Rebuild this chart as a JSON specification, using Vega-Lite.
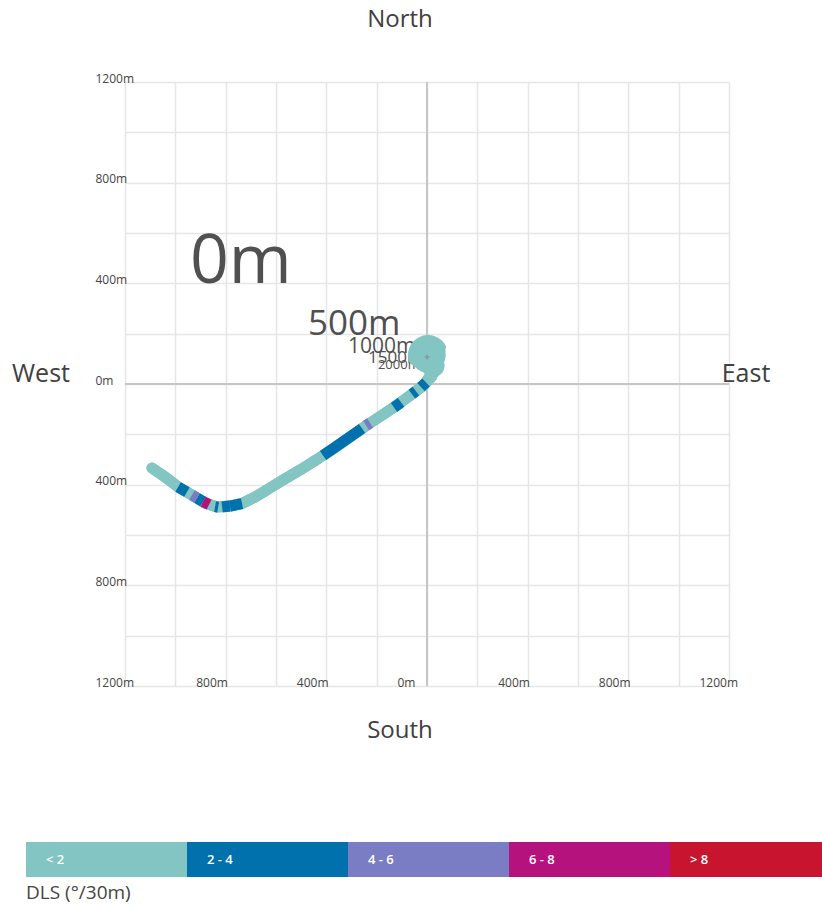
{
  "$schema": "https://vega.github.io/schema/vega-lite/v6.json",
  "width": 604,
  "height": 604,
  "autosize": {"type": "none"},
  "padding": {"left": 125, "top": 82, "right": 93, "bottom": 220},
  "background": "white",
  "config": {
    "font": "Open Sans",
    "view": {"stroke": null}
  },
  "data": {"values": [{}]},
  "datasets": {
    "path": [
      {"md": 0, "e": 4, "n": 115},
      {"md": 1200, "e": 24, "n": 72},
      {"md": 1900, "e": 16, "n": 32},
      {"md": 2100, "e": -12, "n": -4},
      {"md": 2160, "e": -60, "n": -40},
      {"md": 2219, "e": -107, "n": -75},
      {"md": 2297, "e": -171, "n": -119},
      {"md": 2377, "e": -238, "n": -163},
      {"md": 2460, "e": -306, "n": -211},
      {"md": 2542, "e": -373, "n": -258},
      {"md": 2623, "e": -441, "n": -302},
      {"md": 2698, "e": -505, "n": -342},
      {"md": 2776, "e": -572, "n": -381},
      {"md": 2851, "e": -636, "n": -421},
      {"md": 2905, "e": -683, "n": -449},
      {"md": 2959, "e": -731, "n": -473},
      {"md": 3012, "e": -783, "n": -485},
      {"md": 3063, "e": -834, "n": -489},
      {"md": 3114, "e": -882, "n": -473},
      {"md": 3175, "e": -934, "n": -441},
      {"md": 3239, "e": -989, "n": -409},
      {"md": 3305, "e": -1041, "n": -369},
      {"md": 3368, "e": -1093, "n": -334}
    ],
    "bands": [
      {"dls": "2 - 4", "e": -4, "n": 6, "e2": -24, "n2": -12},
      {"dls": "2 - 4", "e": -44, "n": -28, "e2": -60, "n2": -40},
      {"dls": "2 - 4", "e": -103, "n": -73, "e2": -131, "n2": -93},
      {"dls": "4 - 6", "e": -226, "n": -155, "e2": -242, "n2": -165},
      {"dls": "2 - 4", "e": -258, "n": -177, "e2": -413, "n2": -284},
      {"dls": "2 - 4", "e": -735, "n": -475, "e2": -783, "n2": -485},
      {"dls": "2 - 4", "e": -783, "n": -485, "e2": -814, "n2": -489},
      {"dls": "2 - 4", "e": -830, "n": -489, "e2": -842, "n2": -487},
      {"dls": "6 - 8", "e": -866, "n": -479, "e2": -890, "n2": -467},
      {"dls": "2 - 4", "e": -890, "n": -467, "e2": -914, "n2": -453},
      {"dls": "4 - 6", "e": -914, "n": -453, "e2": -934, "n2": -441},
      {"dls": "2 - 4", "e": -954, "n": -429, "e2": -989, "n2": -409}
    ],
    "depths": [
      {"label": "0m", "depth": 0, "e": -942, "n": 400},
      {"label": "500m", "depth": 500, "e": -473, "n": 195},
      {"label": "1000m", "depth": 1000, "e": -314, "n": 123},
      {"label": "1500m", "depth": 1500, "e": -234, "n": 83},
      {"label": "2000m", "depth": 2000, "e": -195, "n": 60}
    ]
  },
  "resolve": {"scale": {"size": "independent"}},
  "layer": [
    {
      "mark": {"type": "rule", "color": "#c6c6c6", "strokeWidth": 2},
      "encoding": {"x": {"datum": 0, "type": "quantitative"}}
    },
    {
      "mark": {"type": "rule", "color": "#c6c6c6", "strokeWidth": 2},
      "encoding": {"y": {"datum": 0, "type": "quantitative"}}
    },
    {
      "data": {"name": "depths"},
      "mark": {"type": "text", "align": "left", "baseline": "alphabetic", "color": "#505050"},
      "encoding": {
        "x": {"field": "e", "type": "quantitative", "axis": {"title": null}},
        "y": {"field": "n", "type": "quantitative", "axis": {"title": null}},
        "text": {"field": "label"},
        "size": {"field": "depth", "type": "quantitative", "legend": null,
                 "scale": {"type": "linear", "domain": [0, 500, 1000, 1500, 2000], "range": [68, 35, 21, 17, 13]}}
      }
    },
    {
      "data": {"name": "path"},
      "mark": {"type": "line", "color": "#82c5c3", "strokeWidth": 11, "strokeCap": "round", "strokeJoin": "round"},
      "encoding": {
        "x": {"field": "e", "type": "quantitative",
              "scale": {"domain": [-1200, 1200], "nice": false, "zero": false},
              "axis": {
                "title": null,
                "values": [-1200, -1000, -800, -600, -400, -200, 0, 200, 400, 600, 800, 1000, 1200],
                "labelExpr": "datum.value % 400 === 0 ? abs(datum.value) + 'm' : ''",
                "domain": false, "ticks": false, "tickSize": 0,
                "grid": true, "gridColor": "#e6e6e6", "gridWidth": 1.5,
                "labelAlign": "left", "labelOffset": -30, "labelBaseline": "alphabetic", "labelPadding": 0,
                "labelFontSize": 12, "labelColor": "#444444",
                "labelFlush": false, "labelOverlap": false, "labelBound": false
              }},
        "y": {"field": "n", "type": "quantitative",
              "scale": {"domain": [-1200, 1200], "nice": false, "zero": false},
              "axis": {
                "title": null,
                "values": [-1200, -1000, -800, -600, -400, -200, 0, 200, 400, 600, 800, 1000, 1200],
                "labelExpr": "datum.value % 400 === 0 && datum.value > -1200 ? abs(datum.value) + 'm' : ''",
                "domain": false, "ticks": false, "tickSize": 0,
                "grid": true, "gridColor": "#e6e6e6", "gridWidth": 1.5,
                "labelAlign": "left", "labelPadding": 30, "labelBaseline": "alphabetic",
                "labelFontSize": 12, "labelColor": "#444444",
                "labelFlush": false, "labelOverlap": false, "labelBound": false
              }},
        "order": {"field": "md", "type": "quantitative"}
      }
    },
    {
      "data": {"name": "path"},
      "mark": {"type": "trail", "color": "#82c5c3"},
      "encoding": {
        "x": {"field": "e", "type": "quantitative", "axis": {"title": null}},
        "y": {"field": "n", "type": "quantitative", "axis": {"title": null}},
        "order": {"field": "md", "type": "quantitative"},
        "size": {"field": "md", "type": "quantitative", "legend": null,
                 "scale": {"type": "linear", "domain": [0, 1200, 1900, 2100], "range": [40, 23, 13, 11], "clamp": true}}
      }
    },
    {
      "data": {"name": "path"},
      "transform": [{"filter": "datum.md === 0"}],
      "mark": {"type": "circle", "color": "#82c5c3", "opacity": 1, "size": 1250},
      "encoding": {
        "x": {"field": "e", "type": "quantitative", "axis": {"title": null}},
        "y": {"field": "n", "type": "quantitative", "axis": {"title": null}}
      }
    },
    {
      "data": {"name": "bands"},
      "mark": {"type": "rule", "strokeWidth": 11, "strokeCap": "butt"},
      "encoding": {
        "x": {"field": "e", "type": "quantitative", "axis": {"title": null}},
        "y": {"field": "n", "type": "quantitative", "axis": {"title": null}},
        "x2": {"field": "e2"},
        "y2": {"field": "n2"},
        "color": {
          "field": "dls", "type": "nominal",
          "scale": {
            "domain": ["< 2", "2 - 4", "4 - 6", "6 - 8", "> 8"],
            "range": ["#82c5c3", "#0071ad", "#7a7dc3", "#b5127e", "#c8142f"]
          },
          "legend": {
            "orient": "none", "legendX": -99, "legendY": 760,
            "direction": "horizontal", "columns": 5, "columnPadding": 0, "rowPadding": 0,
            "padding": 0,
            "symbolType": "M-1,-1H8.2V1H-1Z", "symbolSize": 1225,
            "symbolStrokeWidth": 0, "symbolOpacity": 1,
            "labelColor": "white", "labelFontSize": 13, "labelFontWeight": 600, "labelOffset": -15,
            "title": "DLS (°/30m)", "titleOrient": "bottom", "titleAnchor": "start",
            "titleFontSize": 19, "titleFontWeight": "normal", "titleColor": "#444444", "titlePadding": 7,
            "encode": {
              "symbols": {"update": {
                "fill": {"scale": "color", "field": "value"},
                "stroke": {"value": "transparent"},
                "opacity": {"value": 1}
              }}
            }
          }
        }
      }
    },
    {
      "mark": {"type": "point", "shape": "cross", "size": 22, "filled": true, "color": "#8c8c8c"},
      "encoding": {"x": {"datum": 0, "type": "quantitative"}, "y": {"datum": 107, "type": "quantitative"}}
    },
    {
      "mark": {"type": "text", "text": "North", "fontSize": 24, "color": "#404040", "align": "center", "baseline": "middle", "dx": -27, "dy": -62},
      "encoding": {"x": {"datum": 0, "type": "quantitative"}, "y": {"datum": 1200, "type": "quantitative"}}
    },
    {
      "mark": {"type": "text", "text": "South", "fontSize": 24, "color": "#404040", "align": "center", "baseline": "middle", "dx": -27, "dy": 45},
      "encoding": {"x": {"datum": 0, "type": "quantitative"}, "y": {"datum": -1200, "type": "quantitative"}}
    },
    {
      "mark": {"type": "text", "text": "West", "fontSize": 25, "color": "#404040", "align": "center", "baseline": "middle", "dx": -84, "dy": -10},
      "encoding": {"x": {"datum": -1200, "type": "quantitative"}, "y": {"datum": 0, "type": "quantitative"}}
    },
    {
      "mark": {"type": "text", "text": "East", "fontSize": 25, "color": "#404040", "align": "center", "baseline": "middle", "dx": 17, "dy": -10},
      "encoding": {"x": {"datum": 1200, "type": "quantitative"}, "y": {"datum": 0, "type": "quantitative"}}
    }
  ]
}
